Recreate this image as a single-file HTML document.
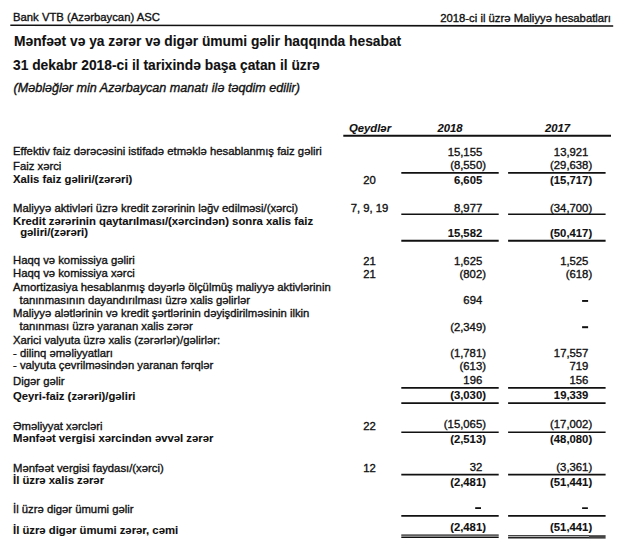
<!DOCTYPE html>
<html><head><meta charset="utf-8"><style>
html,body{margin:0;padding:0;background:#fff;}
body{width:620px;height:560px;position:relative;overflow:hidden;font-family:"Liberation Sans",sans-serif;color:#111;}
.t{position:absolute;white-space:nowrap;line-height:20px;-webkit-text-stroke:0.35px #111;}
.l{position:absolute;display:block;background:#111;}
.cp{margin-right:-0.333em;}
.b{-webkit-text-stroke:0.1px #111;}
.dash{display:inline-block;width:5px;height:1.6px;background:#111;vertical-align:0.19em;}
</style></head><body>
<svg width="620" height="560" style="position:absolute;left:0;top:0"><rect x="582.1" y="300.0" width="6.0" height="1.9" fill="#111"/><rect x="582.1" y="326.2" width="6.0" height="2.0" fill="#111"/><rect x="475.2" y="507.2" width="5.8" height="1.8" fill="#111"/><rect x="582.1" y="507.3" width="5.8" height="1.7" fill="#111"/><polygon points="10.3,24.40 613.2,25.20 613.2,26.80 10.3,26.00" fill="#111"/><polygon points="343.3,134.80 611,134.80 611,136.80 343.3,136.80" fill="#111"/><polygon points="401.3,171.90 498.7,171.90 498.7,173.70 401.3,173.70" fill="#111"/><polygon points="508.1,171.90 605.6,171.90 605.6,173.70 508.1,173.70" fill="#111"/><polygon points="401.3,213.50 498.7,213.50 498.7,215.10 401.3,215.10" fill="#111"/><polygon points="508.1,213.50 605.6,213.50 605.6,215.10 508.1,215.10" fill="#111"/><polygon points="401.3,239.85 498.7,239.85 498.7,241.75 401.3,241.75" fill="#111"/><polygon points="508.1,239.85 605.6,239.85 605.6,241.75 508.1,241.75" fill="#111"/><polygon points="401.3,387.10 498.7,387.10 498.7,388.70 401.3,388.70" fill="#111"/><polygon points="508.1,387.10 605.6,387.10 605.6,388.70 508.1,388.70" fill="#111"/><polygon points="401.3,402.25 498.7,402.25 498.7,403.95 401.3,403.95" fill="#111"/><polygon points="508.1,402.25 605.6,402.25 605.6,403.95 508.1,403.95" fill="#111"/><polygon points="401.3,431.40 498.7,431.40 498.7,433.00 401.3,433.00" fill="#111"/><polygon points="508.1,431.40 605.6,431.40 605.6,433.00 508.1,433.00" fill="#111"/><polygon points="401.3,473.70 498.7,473.70 498.7,475.50 401.3,475.50" fill="#111"/><polygon points="508.1,473.70 605.6,473.70 605.6,475.50 508.1,475.50" fill="#111"/><polygon points="401.3,515.00 498.7,515.00 498.7,516.80 401.3,516.80" fill="#111"/><polygon points="508.1,515.00 605.6,515.00 605.6,516.80 508.1,516.80" fill="#111"/><polygon points="401.3,534.45 498.7,534.45 498.7,535.75 401.3,535.75" fill="#111"/><polygon points="401.3,535.70 498.7,535.70 498.7,536.70 401.3,536.70" fill="#999"/><polygon points="401.3,536.70 498.7,536.70 498.7,538.10 401.3,538.10" fill="#111"/><polygon points="508.1,535.00 589,535.00 589,536.20 508.1,536.20" fill="#444"/><polygon points="508.1,536.15 589,536.15 589,537.05 508.1,537.05" fill="#aaa"/><polygon points="508.1,537.05 589,537.05 589,538.55 508.1,538.55" fill="#222"/><polygon points="589,535.15 605.6,535.15 605.6,538.65 589,538.65" fill="#444"/></svg>
<div class="t" style="top:7.00px;font-size:11.3px;left:13px;">Bank VTB (Azərbaycan) ASC</div>
<div class="t" style="top:8.00px;font-size:11.3px;right:9px;">2018-ci il üzrə Maliyyə hesabatları</div>
<div class="t" style="top:32.00px;font-size:13.8px;font-weight:bold;-webkit-text-stroke:0.1px #111;left:14px;">Mənfəət və ya zərər və digər ümumi gəlir haqqında hesabat</div>
<div class="t" style="top:56.00px;font-size:13.8px;font-weight:bold;-webkit-text-stroke:0.1px #111;left:13px;">31 dekabr 2018-ci il tarixində başa çatan il üzrə</div>
<div class="t" style="top:78.00px;font-size:12.6px;font-style:italic;left:13.5px;">(Məbləğlər min Azərbaycan manatı ilə təqdim edilir)</div>
<div class="t" style="top:118.00px;font-size:11.3px;font-weight:bold;-webkit-text-stroke:0.1px #111;font-style:italic;left:270px;width:200px;text-align:center;">Qeydlər</div>
<div class="t" style="top:118.00px;font-size:11.3px;font-weight:bold;-webkit-text-stroke:0.1px #111;font-style:italic;left:350px;width:200px;text-align:center;">2018</div>
<div class="t" style="top:118.00px;font-size:11.3px;font-weight:bold;-webkit-text-stroke:0.1px #111;font-style:italic;left:457.5px;width:200px;text-align:center;">2017</div>
<div class="t" style="top:141.00px;font-size:11.3px;left:13px;">Effektiv faiz dərəcəsini istifadə etməklə hesablanmış faiz gəliri</div>
<div class="t" style="top:142.00px;font-size:11.3px;right:137.80px;text-align:right;">15,155</div>
<div class="t" style="top:142.00px;font-size:11.3px;right:31.60px;text-align:right;">13,921</div>
<div class="t" style="top:156.00px;font-size:11.3px;left:13px;">Faiz xərci</div>
<div class="t" style="top:155.00px;font-size:11.3px;right:137.80px;text-align:right;">(8,550<span class="cp">)</span></div>
<div class="t" style="top:155.00px;font-size:11.3px;right:31.60px;text-align:right;">(29,638<span class="cp">)</span></div>
<div class="t" style="top:169.00px;font-size:11.3px;font-weight:bold;-webkit-text-stroke:0.1px #111;left:13px;">Xalis faiz gəliri/(zərəri)</div>
<div class="t" style="top:170.00px;font-size:11.3px;left:269.5px;width:200px;text-align:center;">20</div>
<div class="t" style="top:170.00px;font-size:11.3px;font-weight:bold;-webkit-text-stroke:0.1px #111;right:137.80px;text-align:right;">6,605</div>
<div class="t" style="top:170.00px;font-size:11.3px;font-weight:bold;-webkit-text-stroke:0.1px #111;right:31.60px;text-align:right;">(15,717<span class="cp">)</span></div>
<div class="t" style="top:198.00px;font-size:11.3px;left:13px;">Maliyyə aktivləri üzrə kredit zərərinin ləğv edilməsi/(xərci)</div>
<div class="t" style="top:198.00px;font-size:11.3px;left:269.5px;width:200px;text-align:center;">7, 9, 19</div>
<div class="t" style="top:198.00px;font-size:11.3px;right:137.80px;text-align:right;">8,977</div>
<div class="t" style="top:198.00px;font-size:11.3px;right:31.60px;text-align:right;">(34,700<span class="cp">)</span></div>
<div class="t" style="top:211.00px;font-size:11.3px;font-weight:bold;-webkit-text-stroke:0.1px #111;left:13px;">Kredit zərərinin qaytarılması/(xərcindən) sonra xalis faiz</div>
<div class="t" style="top:222.00px;font-size:11.3px;font-weight:bold;-webkit-text-stroke:0.1px #111;left:20.2px;">gəliri/(zərəri)</div>
<div class="t" style="top:223.00px;font-size:11.3px;font-weight:bold;-webkit-text-stroke:0.1px #111;right:137.80px;text-align:right;">15,582</div>
<div class="t" style="top:223.00px;font-size:11.3px;font-weight:bold;-webkit-text-stroke:0.1px #111;right:31.60px;text-align:right;">(50,417<span class="cp">)</span></div>
<div class="t" style="top:250.00px;font-size:11.3px;left:13px;">Haqq və komissiya gəliri</div>
<div class="t" style="top:251.00px;font-size:11.3px;left:269.5px;width:200px;text-align:center;">21</div>
<div class="t" style="top:251.00px;font-size:11.3px;right:137.80px;text-align:right;">1,625</div>
<div class="t" style="top:251.00px;font-size:11.3px;right:31.60px;text-align:right;">1,525</div>
<div class="t" style="top:263.00px;font-size:11.3px;left:13px;">Haqq və komissiya xərci</div>
<div class="t" style="top:264.00px;font-size:11.3px;left:269.5px;width:200px;text-align:center;">21</div>
<div class="t" style="top:264.00px;font-size:11.3px;right:137.80px;text-align:right;">(802<span class="cp">)</span></div>
<div class="t" style="top:264.00px;font-size:11.3px;right:31.60px;text-align:right;">(618<span class="cp">)</span></div>
<div class="t" style="top:277.00px;font-size:11.3px;left:13px;">Amortizasiya hesablanmış dəyərlə ölçülmüş maliyyə aktivlərinin</div>
<div class="t" style="top:290.00px;font-size:11.3px;left:19.5px;">tanınmasının dayandırılması üzrə xalis gəlirlər</div>
<div class="t" style="top:290.00px;font-size:11.3px;right:137.80px;text-align:right;">694</div>
<div class="t" style="top:303.00px;font-size:11.3px;left:13px;">Maliyyə alətlərinin və kredit şərtlərinin dəyişdirilməsinin ilkin</div>
<div class="t" style="top:316.00px;font-size:11.3px;left:19.5px;">tanınması üzrə yaranan xalis zərər</div>
<div class="t" style="top:317.00px;font-size:11.3px;right:137.80px;text-align:right;">(2,349<span class="cp">)</span></div>
<div class="t" style="top:330.00px;font-size:11.3px;left:13px;">Xarici valyuta üzrə xalis (zərərlər)/gəlirlər:</div>
<div class="t" style="top:343.00px;font-size:11.3px;left:13px;">- dilinq əməliyyatları</div>
<div class="t" style="top:343.00px;font-size:11.3px;right:137.80px;text-align:right;">(1,781<span class="cp">)</span></div>
<div class="t" style="top:343.00px;font-size:11.3px;right:31.60px;text-align:right;">17,557</div>
<div class="t" style="top:355.00px;font-size:11.3px;left:13px;">- valyuta çevrilməsindən yaranan fərqlər</div>
<div class="t" style="top:356.00px;font-size:11.3px;right:137.80px;text-align:right;">(613<span class="cp">)</span></div>
<div class="t" style="top:356.00px;font-size:11.3px;right:31.60px;text-align:right;">719</div>
<div class="t" style="top:371.00px;font-size:11.3px;left:13px;">Digər gəlir</div>
<div class="t" style="top:370.00px;font-size:11.3px;right:137.80px;text-align:right;">196</div>
<div class="t" style="top:370.00px;font-size:11.3px;right:31.60px;text-align:right;">156</div>
<div class="t" style="top:386.00px;font-size:11.3px;font-weight:bold;-webkit-text-stroke:0.1px #111;left:13px;">Qeyri-faiz (zərəri)/gəliri</div>
<div class="t" style="top:385.00px;font-size:11.3px;font-weight:bold;-webkit-text-stroke:0.1px #111;right:137.80px;text-align:right;">(3,030<span class="cp">)</span></div>
<div class="t" style="top:385.00px;font-size:11.3px;font-weight:bold;-webkit-text-stroke:0.1px #111;right:31.60px;text-align:right;">19,339</div>
<div class="t" style="top:416.00px;font-size:11.3px;left:13px;">Əməliyyat xərcləri</div>
<div class="t" style="top:416.00px;font-size:11.3px;left:269.5px;width:200px;text-align:center;">22</div>
<div class="t" style="top:414.00px;font-size:11.3px;right:137.80px;text-align:right;">(15,065<span class="cp">)</span></div>
<div class="t" style="top:414.00px;font-size:11.3px;right:31.60px;text-align:right;">(17,002<span class="cp">)</span></div>
<div class="t" style="top:428.00px;font-size:11.3px;font-weight:bold;-webkit-text-stroke:0.1px #111;left:13px;">Mənfəət vergisi xərcindən əvvəl zərər</div>
<div class="t" style="top:429.00px;font-size:11.3px;font-weight:bold;-webkit-text-stroke:0.1px #111;right:137.80px;text-align:right;">(2,513<span class="cp">)</span></div>
<div class="t" style="top:429.00px;font-size:11.3px;font-weight:bold;-webkit-text-stroke:0.1px #111;right:31.60px;text-align:right;">(48,080<span class="cp">)</span></div>
<div class="t" style="top:458.00px;font-size:11.3px;left:13px;">Mənfəət vergisi faydası/(xərci)</div>
<div class="t" style="top:458.00px;font-size:11.3px;left:269.5px;width:200px;text-align:center;">12</div>
<div class="t" style="top:457.00px;font-size:11.3px;right:137.80px;text-align:right;">32</div>
<div class="t" style="top:457.00px;font-size:11.3px;right:31.60px;text-align:right;">(3,361<span class="cp">)</span></div>
<div class="t" style="top:470.00px;font-size:11.3px;font-weight:bold;-webkit-text-stroke:0.1px #111;left:13px;">İl üzrə xalis zərər</div>
<div class="t" style="top:472.00px;font-size:11.3px;font-weight:bold;-webkit-text-stroke:0.1px #111;right:137.80px;text-align:right;">(2,481<span class="cp">)</span></div>
<div class="t" style="top:472.00px;font-size:11.3px;font-weight:bold;-webkit-text-stroke:0.1px #111;right:31.60px;text-align:right;">(51,441<span class="cp">)</span></div>
<div class="t" style="top:499.00px;font-size:11.3px;left:13px;">İl üzrə digər ümumi gəlir</div>
<div class="t" style="top:520.00px;font-size:11.3px;font-weight:bold;-webkit-text-stroke:0.1px #111;left:13px;">İl üzrə digər ümumi zərər, cəmi</div>
<div class="t" style="top:517.00px;font-size:11.3px;font-weight:bold;-webkit-text-stroke:0.1px #111;right:137.80px;text-align:right;">(2,481<span class="cp">)</span></div>
<div class="t" style="top:517.00px;font-size:11.3px;font-weight:bold;-webkit-text-stroke:0.1px #111;right:31.60px;text-align:right;">(51,441<span class="cp">)</span></div>
</body></html>
